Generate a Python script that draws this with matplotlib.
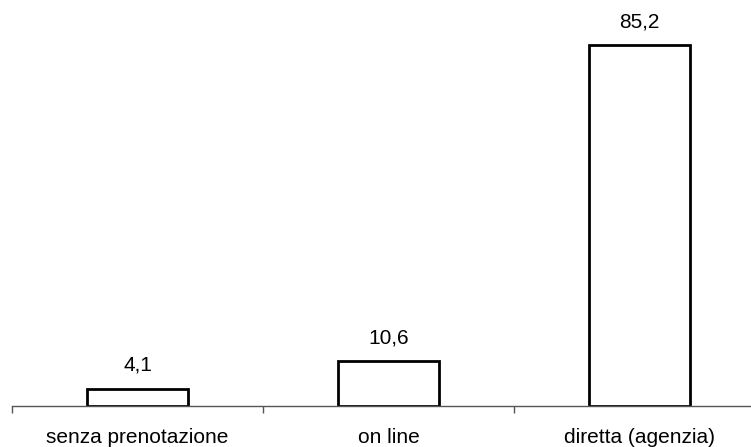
import matplotlib.pyplot as plt

categories = ['senza prenotazione', 'on line', 'diretta (agenzia)']
values = [4.1, 10.6, 85.2]
value_labels = ['4,1', '10,6', '85,2']

plt.rcParams['font.family'] = ['Liberation Sans', 'DejaVu Sans']

fig = plt.figure(figsize=(7.51, 4.47), dpi=100)
W, H = 751, 447
# axes box in pixels: left 12, right 765 (beyond the figure edge), bottom line at y=406
ax = fig.add_axes([12 / W, 41 / H, 753 / W, 400 / H])

x = range(len(categories))
ax.bar(x, values, width=0.4, color='white', edgecolor='black', linewidth=2)

# value labels above the bars
for i, (v, lab) in enumerate(zip(values, value_labels)):
    ax.annotate(lab, (i, v), xytext=(0, 10), textcoords='offset points',
                ha='center', va='bottom', fontsize=15)

ax.set_xlim(-0.5, 2.5)
ax.set_ylim(0, 400 / 4.237)

# category boundary ticks, labels without ticks
ax.set_xticks([-0.5, 0.5, 1.5, 2.5])
ax.set_xticklabels([])
ax.set_xticks(list(x), minor=True)
ax.set_xticklabels(categories, minor=True, fontsize=15)
ax.tick_params(axis='x', which='major', direction='out', length=5, width=1, color='#555555')
ax.tick_params(axis='x', which='minor', length=0, pad=16)

for side in ['top', 'right', 'left']:
    ax.spines[side].set_visible(False)
ax.spines['bottom'].set_color('#555555')
ax.spines['bottom'].set_linewidth(1)
ax.set_yticks([])

fig.savefig('out.png', dpi=100)
